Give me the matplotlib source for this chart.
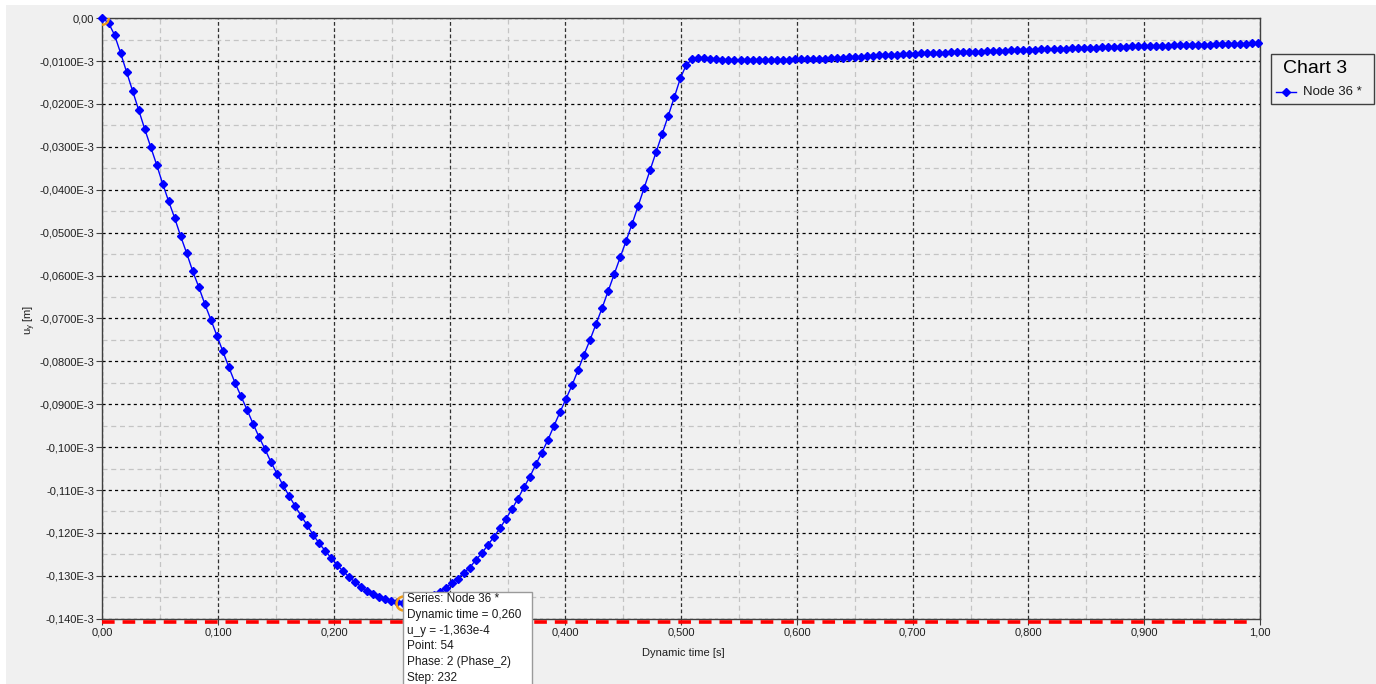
import matplotlib
matplotlib.use("Agg")
import matplotlib.pyplot as plt
from matplotlib.patches import Rectangle
from matplotlib.lines import Line2D
from matplotlib.ticker import FixedLocator, MultipleLocator

plt.rcParams['font.family'] = ['Liberation Sans', 'DejaVu Sans']
plt.rcParams['mathtext.default'] = 'regular'

# Dynamic time [s] of each stored step
time_s = [
    0.0000, 0.0052, 0.0104, 0.0156, 0.0208, 0.0260, 0.0312, 0.0364, 0.0416, 0.0468,
    0.0520, 0.0572, 0.0624, 0.0676, 0.0728, 0.0780, 0.0832, 0.0884, 0.0936, 0.0988,
    0.1040, 0.1092, 0.1144, 0.1196, 0.1248, 0.1300, 0.1352, 0.1404, 0.1456, 0.1508,
    0.1560, 0.1612, 0.1664, 0.1716, 0.1768, 0.1820, 0.1872, 0.1924, 0.1976, 0.2028,
    0.2080, 0.2132, 0.2184, 0.2236, 0.2288, 0.2340, 0.2392, 0.2444, 0.2496, 0.2548,
    0.2600, 0.2652, 0.2704, 0.2756, 0.2808, 0.2860, 0.2912, 0.2964, 0.3016, 0.3068,
    0.3120, 0.3172, 0.3224, 0.3276, 0.3328, 0.3380, 0.3432, 0.3484, 0.3536, 0.3588,
    0.3640, 0.3692, 0.3744, 0.3796, 0.3848, 0.3900, 0.3952, 0.4004, 0.4056, 0.4108,
    0.4160, 0.4212, 0.4264, 0.4316, 0.4368, 0.4420, 0.4472, 0.4524, 0.4576, 0.4628,
    0.4680, 0.4732, 0.4784, 0.4836, 0.4888, 0.4940, 0.4992, 0.5044, 0.5096, 0.5148,
    0.5200, 0.5252, 0.5304, 0.5356, 0.5408, 0.5460, 0.5512, 0.5564, 0.5616, 0.5668,
    0.5720, 0.5772, 0.5824, 0.5876, 0.5928, 0.5980, 0.6032, 0.6084, 0.6136, 0.6188,
    0.6240, 0.6292, 0.6344, 0.6396, 0.6448, 0.6500, 0.6552, 0.6604, 0.6656, 0.6708,
    0.6760, 0.6812, 0.6864, 0.6916, 0.6968, 0.7020, 0.7072, 0.7124, 0.7176, 0.7228,
    0.7280, 0.7332, 0.7384, 0.7436, 0.7488, 0.7540, 0.7592, 0.7644, 0.7696, 0.7748,
    0.7800, 0.7852, 0.7904, 0.7956, 0.8008, 0.8060, 0.8112, 0.8164, 0.8216, 0.8268,
    0.8320, 0.8372, 0.8424, 0.8476, 0.8528, 0.8580, 0.8632, 0.8684, 0.8736, 0.8788,
    0.8840, 0.8892, 0.8944, 0.8996, 0.9048, 0.9100, 0.9152, 0.9204, 0.9256, 0.9308,
    0.9360, 0.9412, 0.9464, 0.9516, 0.9568, 0.9620, 0.9672, 0.9724, 0.9776, 0.9828,
    0.9880, 0.9932, 0.9984,
]

# Vertical displacement u_y of node 36, in units of 1E-3 m
u_y_e3 = [
    0.0, -0.00109, -0.00391, -0.00810, -0.01253, -0.01693, -0.02138, -0.02578, -0.03000, -0.03419,
    -0.03861, -0.04273, -0.04662, -0.05089, -0.05484, -0.05904, -0.06269, -0.06665, -0.07028, -0.07399,
    -0.07767, -0.08139, -0.08496, -0.08808, -0.09124, -0.09450, -0.09762, -0.10049, -0.10352, -0.10624,
    -0.10894, -0.11136, -0.11376, -0.11602, -0.11819, -0.12045, -0.12245, -0.12417, -0.12587, -0.12750,
    -0.12897, -0.13030, -0.13153, -0.13256, -0.13356, -0.13426, -0.13496, -0.13549, -0.13589, -0.13612,
    -0.13630, -0.13607, -0.13584, -0.13549, -0.13503, -0.13444, -0.13367, -0.13279, -0.13176, -0.13069,
    -0.12930, -0.12813, -0.12634, -0.12478, -0.12285, -0.12098, -0.11896, -0.11679, -0.11453, -0.11206,
    -0.10941, -0.10694, -0.10398, -0.10126, -0.09832, -0.09506, -0.09187, -0.08877, -0.08558, -0.08209,
    -0.07844, -0.07499, -0.07131, -0.06758, -0.06362, -0.05973, -0.05578, -0.05189, -0.04793, -0.04374,
    -0.03954, -0.03544, -0.03125, -0.02706, -0.02271, -0.01844, -0.01402, -0.01083, -0.00955, -0.00920,
    -0.00934, -0.00943, -0.00962, -0.00967, -0.00967, -0.00967, -0.00967, -0.00967, -0.00967, -0.00967,
    -0.00967, -0.00967, -0.00967, -0.00967, -0.00967, -0.00962, -0.00962, -0.00957, -0.00950, -0.00943,
    -0.00943, -0.00939, -0.00927, -0.00920, -0.00911, -0.00899, -0.00897, -0.00885, -0.00876, -0.00867,
    -0.00862, -0.00857, -0.00848, -0.00841, -0.00836, -0.00834, -0.00822, -0.00815, -0.00815, -0.00806,
    -0.00801, -0.00797, -0.00790, -0.00787, -0.00787, -0.00785, -0.00780, -0.00776, -0.00769, -0.00764,
    -0.00757, -0.00753, -0.00746, -0.00741, -0.00736, -0.00732, -0.00725, -0.00720, -0.00718, -0.00713,
    -0.00708, -0.00704, -0.00699, -0.00694, -0.00690, -0.00685, -0.00680, -0.00676, -0.00671, -0.00669,
    -0.00664, -0.00659, -0.00657, -0.00652, -0.00650, -0.00645, -0.00643, -0.00638, -0.00636, -0.00634,
    -0.00629, -0.00627, -0.00624, -0.00622, -0.00617, -0.00613, -0.00608, -0.00606, -0.00601, -0.00596,
    -0.00592, -0.00587, -0.00583,
]

x_ticks = [0.0, 0.1, 0.2, 0.3, 0.4, 0.5, 0.6, 0.7, 0.8, 0.9, 1.0]
x_tick_labels = ["0,00", "0,100", "0,200", "0,300", "0,400", "0,500",
                 "0,600", "0,700", "0,800", "0,900", "1,00"]
y_ticks_e3 = [0.0, -0.01, -0.02, -0.03, -0.04, -0.05, -0.06, -0.07,
              -0.08, -0.09, -0.10, -0.11, -0.12, -0.13, -0.14]
y_tick_labels = ["0,00", "-0,0100E-3", "-0,0200E-3", "-0,0300E-3", "-0,0400E-3",
                 "-0,0500E-3", "-0,0600E-3", "-0,0700E-3", "-0,0800E-3", "-0,0900E-3",
                 "-0,100E-3", "-0,110E-3", "-0,120E-3", "-0,130E-3", "-0,140E-3"]

# Selected point shown in the hover box
sel_time = 0.260
sel_u_e3 = -0.1363
tooltip_lines = ["Series: Node 36 *", "Dynamic time = 0,260", "u_y = -1,363e-4",
                 "Point: 54", "Phase: 2 (Phase_2)", "Step: 232"]
# Reference level marked by the red dashed line
limit_u_e3 = -0.1408

W, H = 1376, 684
BG = '#f0f0f0'
SERIES = '#0000ff'

fig = plt.figure(figsize=(W / 100, H / 100), dpi=100, facecolor='white')


def fx(px):
    return px / W


def fy(py):
    return 1 - py / H


# grey window panel
fig.patches.append(Rectangle((fx(6), 0), 1 - fx(6), fy(5), transform=fig.transFigure,
                             facecolor=BG, edgecolor='none', zorder=-10))

ax = fig.add_axes([fx(102.5), fy(618.7), fx(1260) - fx(102.5), fy(18.2) - fy(618.7)])
ax.set_facecolor(BG)

t = time_s
u = [v * 1e-3 for v in u_y_e3]

ax.plot(t, u, color=SERIES, lw=1.0, marker='D', ms=4.2, mfc=SERIES, mec=SERIES,
        zorder=5, clip_on=False)

ax.set_xlim(0, 1.0)
ax.set_ylim(-0.140e-3, 0)

ax.xaxis.set_major_locator(FixedLocator(x_ticks))
ax.set_xticklabels(x_tick_labels)
ax.xaxis.set_minor_locator(MultipleLocator(0.05))
ax.yaxis.set_major_locator(FixedLocator([v * 1e-3 for v in y_ticks_e3]))
ax.set_yticklabels(y_tick_labels)
ax.yaxis.set_minor_locator(MultipleLocator(0.005e-3))

ax.tick_params(which='major', direction='out', length=4, width=0.8, color='#404040',
               labelsize=8, labelcolor='#202020', pad=2)
ax.tick_params(which='minor', length=0)

# the 0,300 label sits underneath the hover box
for lbl in ax.get_xticklabels():
    if lbl.get_text() == "0,300":
        lbl.set_visible(False)

ax.grid(which='major', axis='x', color='#303030', lw=0.9, linestyle=(0, (3, 2)))
ax.grid(which='major', axis='y', color='#000000', lw=0.9, linestyle=(0, (2.5, 2.5)))
ax.grid(which='minor', color='#c4c4c4', lw=0.9, linestyle=(0, (4, 3)))
ax.set_axisbelow(True)

for s in ax.spines.values():
    s.set_color('#404040')
    s.set_linewidth(1.0)

# highlight rings
ax.plot([0.0], [0.0], marker='o', ms=9, mfc='none', mec='#f39c12', mew=1.6, zorder=6)
ax.plot([sel_time], [sel_u_e3 * 1e-3], marker='o', ms=10, mfc='none', mec='#f39c12',
        mew=1.8, zorder=6, clip_on=False)

# axis titles
fig.text(fx(30), fy(320), "u$_y$ [m]", rotation=90, ha='center', va='center',
         fontsize=8, color='#202020')
fig.text(fx(683), fy(653), "Dynamic time [s]", ha='center', va='center',
         fontsize=8, color='#202020')

# hover box
fig.patches.append(Rectangle((fx(402.7), fy(690)), fx(531.7) - fx(402.7), fy(591.7) - fy(690),
                             transform=fig.transFigure, facecolor='white',
                             edgecolor='#9a9a9a', lw=1.0, zorder=20))
for i, line in enumerate(tooltip_lines):
    fig.text(fx(407), fy(599.5 + 15.6 * i), line, ha='left', va='center',
             fontsize=8.5, color='#1a1a1a', zorder=21)

# red dashed reference line drawn over everything
ax.plot([0.0, 0.995], [limit_u_e3 * 1e-3] * 2, color='#ff0000', lw=2.6,
        linestyle=(0, (3.5, 2.2)), clip_on=False, zorder=30)

# legend box
fig.patches.append(Rectangle((fx(1271), fy(104)), fx(1374) - fx(1271), fy(54) - fy(104),
                             transform=fig.transFigure, facecolor=BG,
                             edgecolor='#404040', lw=1.0, zorder=10))
fig.text(fx(1283), fy(68.5), "Chart 3", ha='left', va='center', fontsize=14,
         color='#000000', zorder=11)
fig.lines.append(Line2D([fx(1276), fx(1296)], [fy(92), fy(92)], transform=fig.transFigure,
                        color=SERIES, lw=1.0, zorder=11))
fig.lines.append(Line2D([fx(1286)], [fy(92)], transform=fig.transFigure,
                        color=SERIES, lw=0, marker='D', ms=4.2, zorder=12))
fig.text(fx(1303), fy(92), "Node 36 *", ha='left', va='center', fontsize=9.5,
         color='#1a1a1a', zorder=11)

fig.savefig("out.png", dpi=100, facecolor=fig.get_facecolor())
